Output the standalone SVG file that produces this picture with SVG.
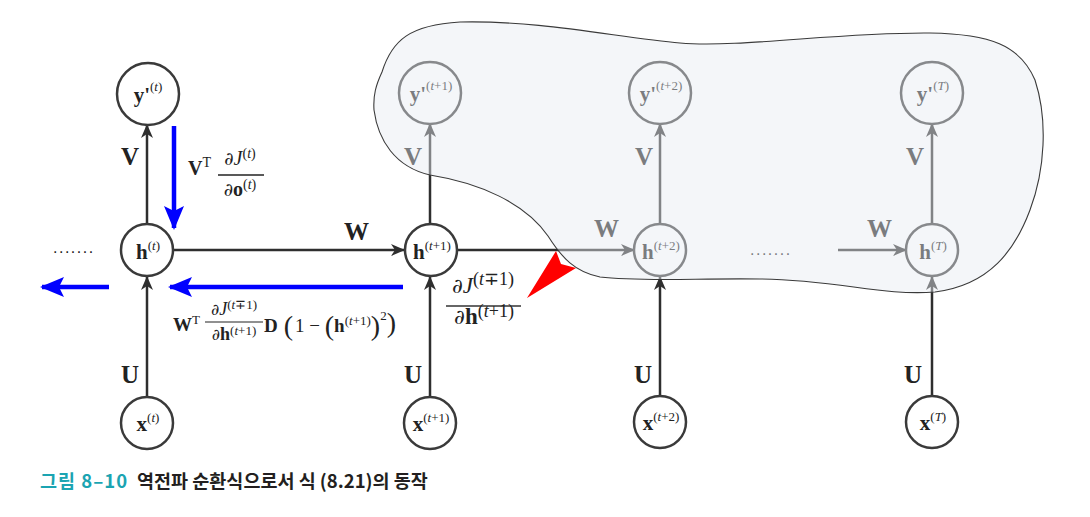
<svg xmlns="http://www.w3.org/2000/svg" width="1090" height="517" viewBox="0 0 1090 517">
<style>
.nd circle{fill:#fff;stroke:#3a3a3a;stroke-width:2.5}
.lb{font-family:"Liberation Serif",serif;font-weight:bold;font-size:21px;fill:#222}
.sp{font-size:13px;font-weight:normal}
.it{font-style:italic}
.ed{stroke:#2e2e2e;stroke-width:2.5;fill:none}
.bl{stroke:#0000ff;stroke-width:4.5;fill:none}
.el{font-family:"Liberation Serif",serif;font-weight:bold;font-size:25px;fill:#222}
.mt{font-family:"Liberation Serif",serif;fill:#222}
.pd{font-family:"DejaVu Serif",serif}
.dots{font-family:"Liberation Sans",sans-serif;font-size:16px;fill:#222;letter-spacing:1.5px}
</style>
<defs>
<marker id="ah" markerUnits="userSpaceOnUse" markerWidth="14" markerHeight="12" refX="13" refY="6" orient="auto">
<path d="M0,0 L14,6 L0,12 L4,6 z" fill="#2e2e2e"/>
</marker>
<marker id="bh" markerUnits="userSpaceOnUse" markerWidth="24" markerHeight="20" refX="22" refY="10" orient="auto">
<path d="M0,0 L24,10 L0,20 L5,10 z" fill="#0000ff"/>
</marker>
</defs>
<rect width="1090" height="517" fill="#fff"/>

<g id="connectors">
<line class="ed" x1="147" y1="397" x2="147" y2="277" marker-end="url(#ah)"/>
<line class="ed" x1="147" y1="224" x2="147" y2="125" marker-end="url(#ah)"/>
<line class="ed" x1="173" y1="250" x2="404" y2="250" marker-end="url(#ah)"/>
<line class="ed" x1="430" y1="397" x2="430" y2="277" marker-end="url(#ah)"/>
<line class="ed" x1="430" y1="224" x2="430" y2="124" marker-end="url(#ah)"/>
<line class="ed" x1="457" y1="250" x2="634" y2="250" marker-end="url(#ah)"/>
<line class="ed" x1="660" y1="397" x2="660" y2="277" marker-end="url(#ah)"/>
<line class="ed" x1="660" y1="224" x2="660" y2="124" marker-end="url(#ah)"/>
<line class="ed" x1="838" y1="250" x2="906" y2="250" marker-end="url(#ah)"/>
<line class="ed" x1="932" y1="397" x2="932" y2="277" marker-end="url(#ah)"/>
<line class="ed" x1="932" y1="224" x2="932" y2="124" marker-end="url(#ah)"/>
<line class="bl" x1="174" y1="126" x2="174" y2="228" marker-end="url(#bh)"/>
<line class="bl" x1="403" y1="287" x2="170" y2="287" marker-end="url(#bh)"/>
<line class="bl" x1="109" y1="287" x2="42" y2="287" marker-end="url(#bh)"/>
</g>

<g id="edge-labels">
<text class="el" x="121" y="165">V</text>
<text class="el" x="344" y="240">W</text>
<text class="el" x="121" y="383">U</text>
<text class="el" x="404" y="165">V</text>
<text class="el" x="404" y="383">U</text>
<text class="el" x="594" y="237">W</text>
<text class="el" x="635" y="165">V</text>
<text class="el" x="634" y="383">U</text>
<text class="el" x="867" y="237">W</text>
<text class="el" x="906" y="165">V</text>
<text class="el" x="904" y="383">U</text>
<text class="dots" x="53" y="253">.......</text>
<text class="dots" x="750" y="255">.......</text>
</g>

<g id="node-y-t" class="nd"><circle cx="148" cy="94" r="31"/><text class="lb" x="148" y="102" text-anchor="middle" font-size="22">y'<tspan class="sp" dy="-11">(<tspan class="it">t</tspan>)</tspan></text></g>
<g id="node-h-t" class="nd"><circle cx="147" cy="250" r="26"/><text class="lb" x="148" y="259" text-anchor="middle">h<tspan class="sp" dy="-9">(<tspan class="it">t</tspan>)</tspan></text></g>
<g id="node-x-t" class="nd"><circle cx="147" cy="423" r="26"/><text class="lb" x="148" y="431" text-anchor="middle">x<tspan class="sp" dy="-9">(<tspan class="it">t</tspan>)</tspan></text></g>

<g id="node-y-t1" class="nd"><circle cx="430" cy="93" r="31"/><text class="lb" x="431" y="101" text-anchor="middle" font-size="22">y'<tspan class="sp" dy="-11">(<tspan class="it">t</tspan>+1)</tspan></text></g>
<g id="node-h-t1" class="nd"><circle cx="431" cy="250" r="26"/><text class="lb" x="432" y="259" text-anchor="middle">h<tspan class="sp" dy="-9">(<tspan class="it">t</tspan>+1)</tspan></text></g>
<g id="node-x-t1" class="nd"><circle cx="430" cy="423" r="26"/><text class="lb" x="431" y="431" text-anchor="middle">x<tspan class="sp" dy="-9">(<tspan class="it">t</tspan>+1)</tspan></text></g>

<g id="node-y-t2" class="nd"><circle cx="660" cy="93" r="31"/><text class="lb" x="661" y="101" text-anchor="middle" font-size="22">y'<tspan class="sp" dy="-11">(<tspan class="it">t</tspan>+2)</tspan></text></g>
<g id="node-h-t2" class="nd"><circle cx="660" cy="250" r="26"/><text class="lb" x="661" y="259" text-anchor="middle">h<tspan class="sp" dy="-9">(<tspan class="it">t</tspan>+2)</tspan></text></g>
<g id="node-x-t2" class="nd"><circle cx="660" cy="422" r="26"/><text class="lb" x="661" y="430" text-anchor="middle">x<tspan class="sp" dy="-9">(<tspan class="it">t</tspan>+2)</tspan></text></g>

<g id="node-y-T" class="nd"><circle cx="932" cy="93" r="31"/><text class="lb" x="933" y="101" text-anchor="middle" font-size="22">y'<tspan class="sp" dy="-11">(<tspan class="it">T</tspan>)</tspan></text></g>
<g id="node-h-T" class="nd"><circle cx="932" cy="250" r="26"/><text class="lb" x="933" y="259" text-anchor="middle">h<tspan class="sp" dy="-9">(<tspan class="it">T</tspan>)</tspan></text></g>
<g id="node-x-T" class="nd"><circle cx="932" cy="422" r="26"/><text class="lb" x="933" y="430" text-anchor="middle">x<tspan class="sp" dy="-9">(<tspan class="it">T</tspan>)</tspan></text></g>

<g id="future-region">
<path d="M382,72 C392,40 410,25 460,22 C540,20 620,38 680,43 C740,48 840,32 930,33 C990,34 1020,45 1035,80 C1048,120 1045,170 1030,210 C1015,250 990,285 935,292 C880,296 840,280 760,279 C700,278 640,282 600,277 C575,272 562,258 548,236 C525,203 480,183 430,175 C395,167 378,140 374,110 C373,95 376,85 382,72 Z" fill="#e7eaf2" fill-opacity="0.45" stroke="#3a3a3a" stroke-width="1.1"/>
</g>

<g id="red-arrow">
<path d="M527,298 L556,251 L561,264 L576,268 Z" fill="#ff0000"/>
</g>

<g id="formulas">
<text class="mt" x="188" y="175" font-size="20"><tspan font-weight="bold">V</tspan><tspan font-size="14" dy="-8">T</tspan></text>
<text class="mt" x="240" y="165" font-size="20" text-anchor="middle"><tspan class="pd" font-size="18">∂</tspan><tspan font-style="italic">J</tspan><tspan font-size="14" dy="-7">(<tspan font-style="italic">t</tspan>)</tspan></text>
<line x1="218" y1="175" x2="264" y2="175" stroke="#222" stroke-width="1.3"/>
<text class="mt" x="240" y="196" font-size="20" text-anchor="middle"><tspan class="pd" font-size="18">∂</tspan><tspan font-weight="bold">o</tspan><tspan font-size="14" dy="-7">(<tspan font-style="italic">t</tspan>)</tspan></text>

<text class="mt" x="173" y="331" font-size="19"><tspan font-weight="bold">W</tspan><tspan font-size="13" dy="-7">T</tspan></text>
<text class="mt" x="234" y="315" font-size="18" text-anchor="middle"><tspan class="pd" font-size="16">∂</tspan><tspan font-style="italic">J</tspan><tspan font-size="13" dy="-6">(<tspan font-style="italic">t</tspan>∓1)</tspan></text>
<line x1="205" y1="322" x2="263" y2="322" stroke="#222" stroke-width="1.1"/>
<text class="mt" x="234" y="340" font-size="18" text-anchor="middle"><tspan class="pd" font-size="16">∂</tspan><tspan font-weight="bold">h</tspan><tspan font-size="13" dy="-5">(<tspan font-style="italic">t</tspan>+1)</tspan></text>
<text class="mt" x="264" y="332" font-size="19"><tspan font-weight="bold">D</tspan><tspan font-size="28" dx="6" dy="3">(</tspan><tspan font-size="19" dx="2" dy="-3">1 − </tspan><tspan font-size="28" dy="3">(</tspan><tspan font-size="19" font-weight="bold" dy="-3">h</tspan><tspan font-size="13" dy="-7">(<tspan font-style="italic">t</tspan>+1)</tspan><tspan font-size="28" dy="10">)</tspan><tspan font-size="13" dy="-15">2</tspan><tspan font-size="28" dy="12">)</tspan></text>

<text class="mt" x="483" y="293" font-size="23" fill="#333" text-anchor="middle"><tspan class="pd" font-size="21">∂</tspan><tspan font-style="italic">J</tspan><tspan font-size="18" dy="-8">(<tspan font-style="italic">t</tspan>∓1)</tspan></text>
<line x1="446" y1="306" x2="521" y2="306" stroke="#333" stroke-width="1.4"/>
<text class="mt" x="484" y="324" font-size="23" fill="#333" text-anchor="middle"><tspan class="pd" font-size="21">∂</tspan><tspan font-weight="bold">h</tspan><tspan font-size="18" dy="-7">(<tspan font-style="italic">t</tspan>+1)</tspan></text>
</g>

<g id="caption">
<text x="40" y="488" font-family="'Noto Sans CJK KR','Noto Sans',sans-serif" font-weight="bold" font-size="18.5"><tspan fill="#1ba4b2" letter-spacing="1">그림 8–10</tspan><tspan fill="#231f20" dx="9">역전파 순환식으로서 식 (8.21)의 동작</tspan></text>
</g>
</svg>
